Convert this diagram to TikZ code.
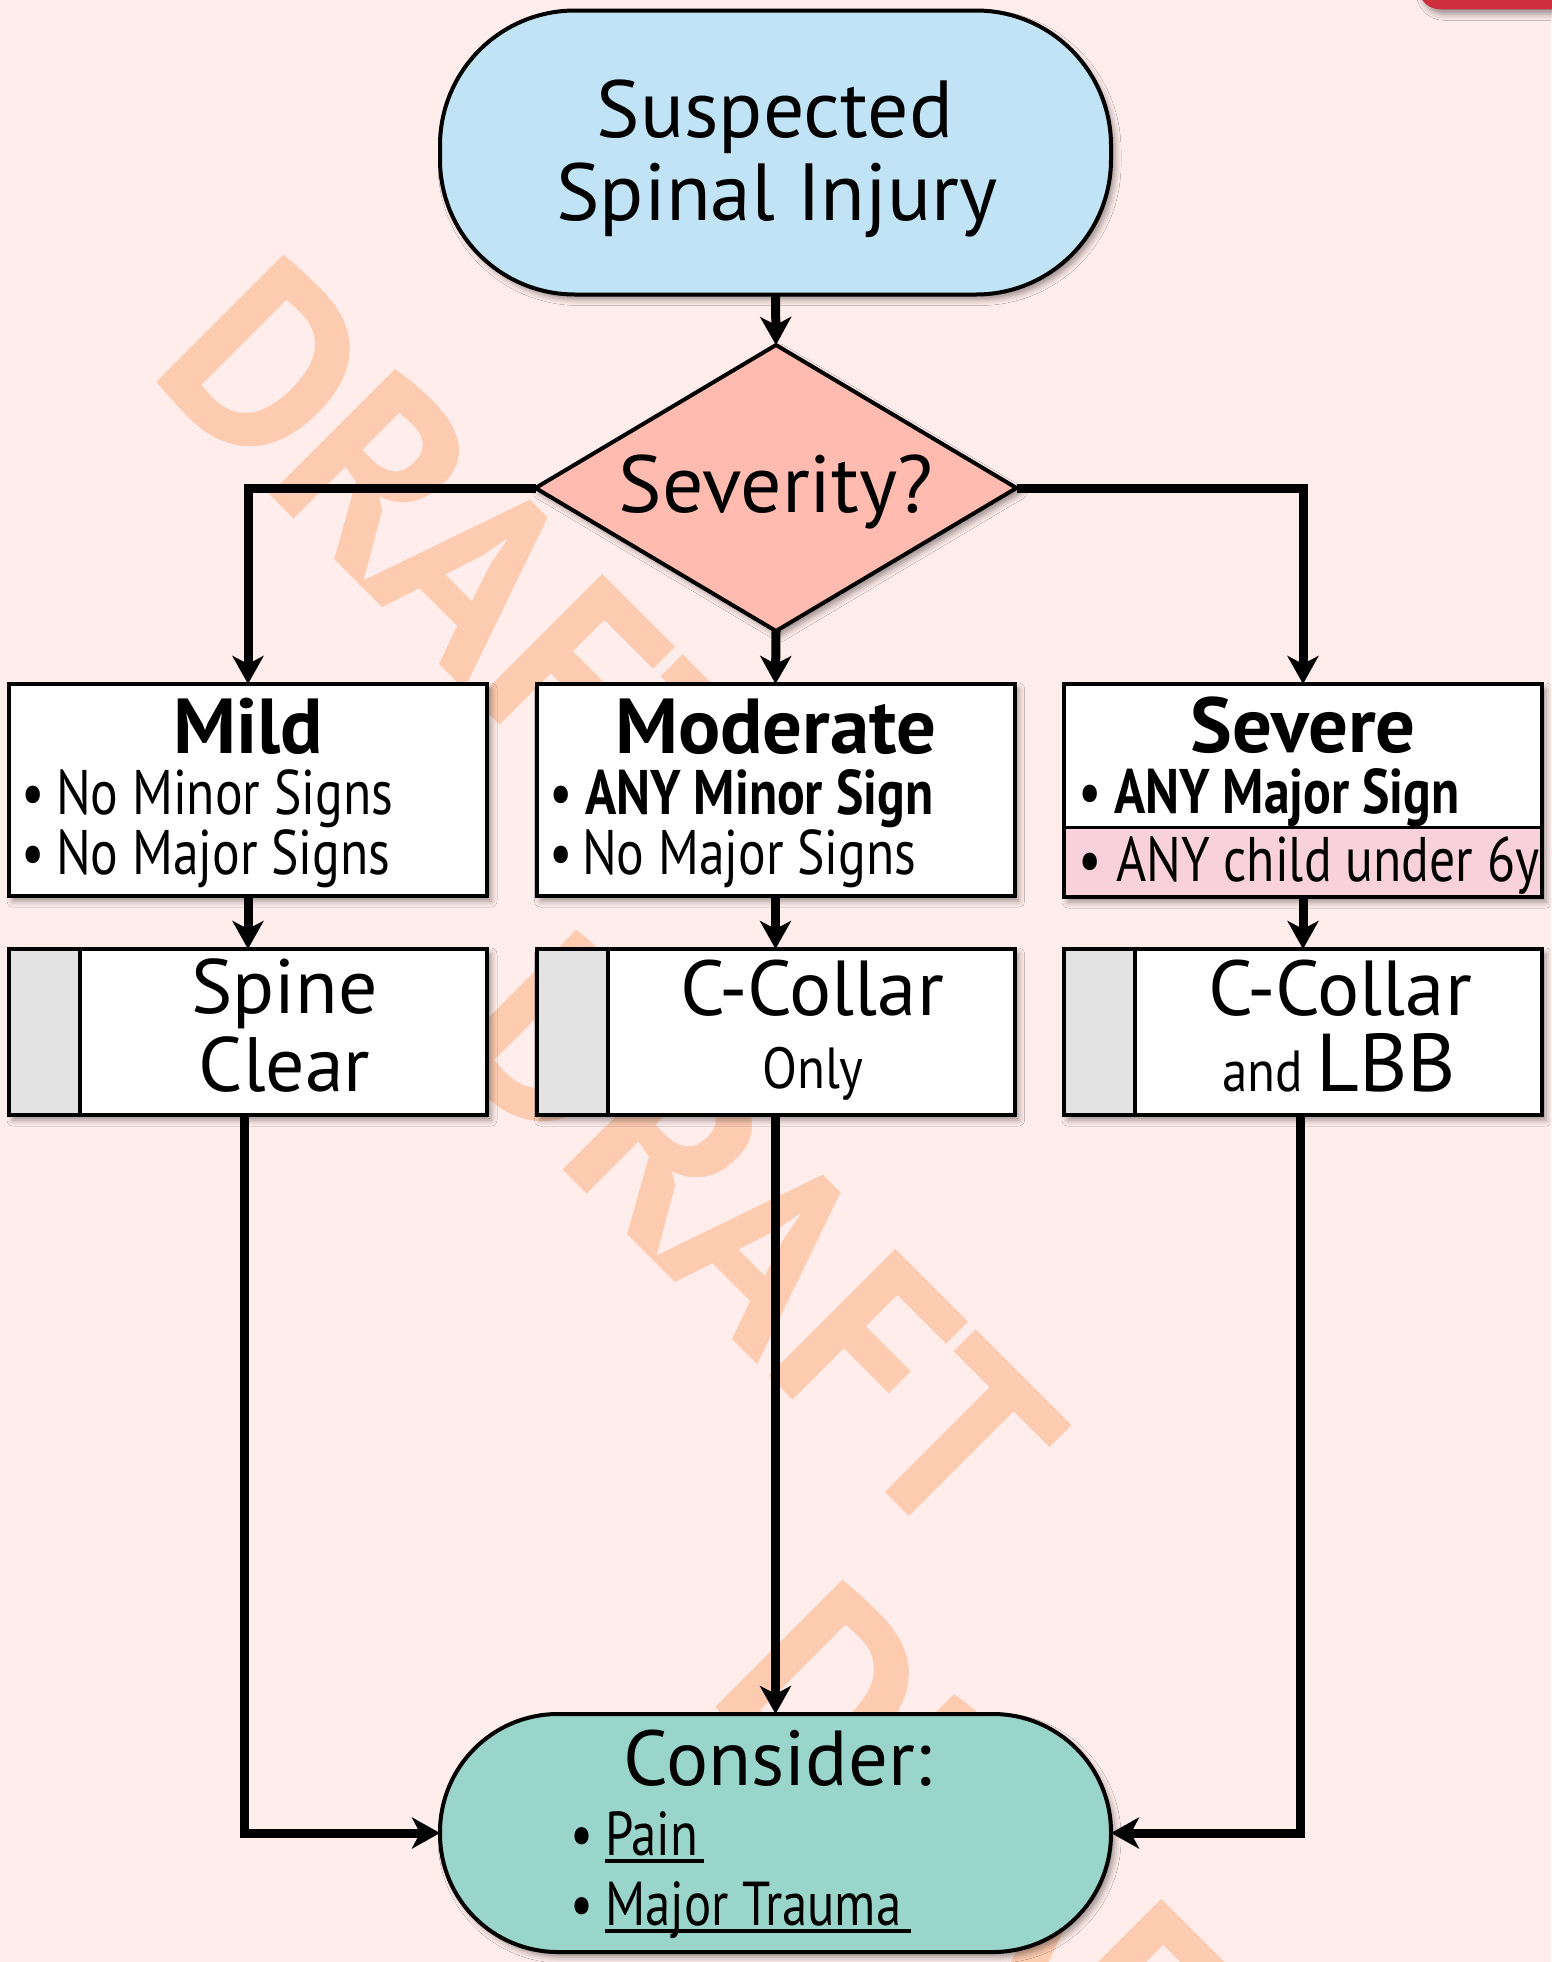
\documentclass[tikz,border=0pt]{standalone}
\usepackage{fontspec}
\setmainfont[FakeStretch=0.82]{PT Sans}
\newfontfamily\bigf[FakeStretch=1.01]{PT Sans}
\newfontfamily\midf[FakeStretch=0.88]{PT Sans}
\newfontfamily\wmfont[FakeStretch=0.97]{PT Sans}
\usetikzlibrary{shapes.geometric,arrows.meta,shadows.blur,calc}
\newcommand\myfs[1]{\fontsize{#1pt}{#1pt}\selectfont}
\definecolor{bgpink}{RGB}{255,237,235}
\definecolor{wmpeach}{RGB}{253,203,176}
\definecolor{termblue}{RGB}{192,227,245}
\definecolor{termteal}{RGB}{154,213,203}
\definecolor{diapink}{RGB}{255,187,176}
\definecolor{rowpink}{RGB}{248,209,221}
\definecolor{stripgray}{RGB}{227,227,227}
\definecolor{cornerred}{RGB}{204,46,59}
\begin{document}
\begin{tikzpicture}[x=1pt,y=-1pt,
  shad/.style={blur shadow={shadow xshift=4pt,shadow yshift=-5pt,shadow blur radius=6pt,shadow opacity=40}},
  term/.style={shad,draw=black,line width=4pt,rectangle,minimum width=671pt,inner sep=0pt,outer sep=0pt},
  box/.style={shad,draw=black,line width=4pt,rectangle,fill=white,minimum width=478pt,inner sep=0pt,outer sep=0pt},
  dia/.style={shad,draw=black,line width=4pt,diamond,fill=diapink,minimum width=481pt,minimum height=286pt,inner sep=0pt,outer sep=0pt},
  conn/.style={line width=9pt,-{Stealth[length=28pt,width=31pt,inset=8pt]}},
  lbl/.style={anchor=base,inner sep=0pt,outer sep=0pt},
  lblw/.style={anchor=base west,inner sep=0pt,outer sep=0pt},
  wm/.style={anchor=base west,rotate=-45,inner sep=0pt,outer sep=0pt,text=wmpeach,font=\wmfont\bfseries\myfs{256}},
  uline/.style={line width=3.5pt}
]
\useasboundingbox (0,0) rectangle (1551,1962);
\fill[bgpink] (0,0) rectangle (1551,1962);
% watermark
\node[wm] (wm1) at (146,371) {DRAFT};
\node[wm] (wm2) at (439,1046) {DRAFT};
\node[wm] (wm3) at (705,1696) {DRAFT};
% corner tab
\node[shad,fill=cornerred,rectangle,rounded corners=22pt,minimum width=300pt,minimum height=100pt,anchor=south west,inner sep=0pt] (flag) at (1418,9.5) {};
% shapes
\node[term,fill=termblue,minimum height=284pt,rounded corners=135pt] (top) at (775.5,152.5) {};
\node[dia] (dia) at (776,488) {};
\node[box,minimum height=212pt] (mild) at (248,790) {};
\node[box,minimum height=212pt] (mod) at (775.5,790) {};
\node[box,minimum height=213pt] (sev) at (1303,790.5) {};
\node[box,minimum height=166pt] (spine) at (248,1032) {};
\node[box,minimum height=166pt] (only) at (775.5,1032) {};
\node[box,minimum height=166pt] (lbb) at (1303,1032) {};
\node[term,fill=termteal,minimum height=238pt,rounded corners=118pt] (cons) at (775.5,1833) {};
% pink row in severe box
\fill[rowpink] ($(sev.south west)+(2,-70)$) rectangle ($(sev.south east)+(-2,-2)$);
\draw[line width=3pt] ($(sev.south west)+(0,-70)$) -- ($(sev.south east)+(0,-70)$);
% grey strips
\foreach \n in {spine,only,lbb}{
  \fill[stripgray] ($(\n.north west)+(2,2)$) rectangle ($(\n.south west)+(71,-2)$);
  \draw[line width=4pt] ($(\n.north west)+(71,0)$) -- ($(\n.south west)+(71,0)$);
}
% connectors
\draw[conn] (top.south) -- (dia.north);
\draw[conn] (dia.west) -| (mild.north);
\draw[conn] (dia.south) -- (mod.north);
\draw[conn] (dia.east) -| (sev.north);
\draw[conn] (mild.south) -- (spine.north);
\draw[conn] (mod.south) -- (only.north);
\draw[conn] (sev.south) -- (lbb.north);
\draw[conn] ([xshift=-4pt]spine.south) |- (cons.west);
\draw[conn] (only.south) -- (cons.north);
\draw[conn] ([xshift=-3pt]lbb.south) |- (cons.east);
% texts
\node[lbl,font=\bigf\myfs{81}] (t1) at (775,137) {Suspected};
\node[lbl,font=\bigf\myfs{81}] (t2) at (777,220) {Spinal Injury};
\node[lbl,font=\bigf\myfs{81}] (tsev) at (776,512) {Severity?};
% mild
\node[lbl,font=\bigf\bfseries\myfs{78}] (hmild) at (248,753) {Mild};
\node[lbl,font=\myfs{63}] (bm1) at (33.5,814) {•};
\node[lblw,font=\myfs{63}] (m1) at (56,814) {No Minor Signs};
\node[lbl,font=\myfs{63}] (bm2) at (33.5,874) {•};
\node[lblw,font=\myfs{63}] (m2) at (56,874) {No Major Signs};
% moderate
\node[lbl,font=\bigf\bfseries\myfs{78}] (hmod) at (776,753) {Moderate};
\node[lbl,font=\myfs{63}] (bd1) at (561,814) {•};
\node[lblw,font=\bfseries\myfs{63}] (d1) at (585,814) {ANY Minor Sign};
\node[lbl,font=\myfs{63}] (bd2) at (561,874) {•};
\node[lblw,font=\myfs{63}] (d2) at (582,874) {No Major Signs};
% severe
\node[lbl,font=\bigf\bfseries\myfs{78}] (hsev) at (1303,752) {Severe};
\node[lbl,font=\myfs{63}] (bs1) at (1090,813) {•};
\node[lblw,font=\bfseries\myfs{63}] (s1) at (1114,813) {ANY Major Sign};
\node[lbl,font=\myfs{63}] (bs2) at (1090,881) {•};
\node[lblw,font=\myfs{63}] (s2) at (1116,881) {ANY child under 6y};
% lower boxes
\node[lbl,font=\bigf\myfs{77}] (sp1) at (284.5,1013) {Spine};
\node[lbl,font=\bigf\myfs{77}] (sp2) at (284.5,1091) {Clear};
\node[lbl,font=\bigf\myfs{78}] (cc1) at (812,1015) {C-Collar};
\node[lbl,font=\midf\myfs{58}] (cc2) at (813,1088) {Only};
\node[lbl,font=\bigf\myfs{78}] (cl1) at (1340,1015) {C-Collar};
\node[lbl] (cl2) at (1339,1091) {\midf\myfs{58}and \bigf\myfs{82}LBB};
% consider
\node[lbl,font=\bigf\myfs{78}] (c0) at (778,1785) {Consider:};
\node[lbl,font=\myfs{62}] (bc1) at (581.5,1855) {•};
\node[lblw,font=\myfs{62}] (c1) at (605,1855) {Pain};
\node[lbl,font=\myfs{62}] (bc2) at (581.5,1925) {•};
\node[lblw,font=\myfs{62}] (c2) at (605,1925) {Major Trauma};
\draw[uline] ($(c1.base west)+(0,6)$) -- ($(c1.base east)+(6,6)$);
\draw[uline] ($(c2.base west)+(0,6)$) -- ($(c2.base east)+(10,6)$);
\end{tikzpicture}
\end{document}
